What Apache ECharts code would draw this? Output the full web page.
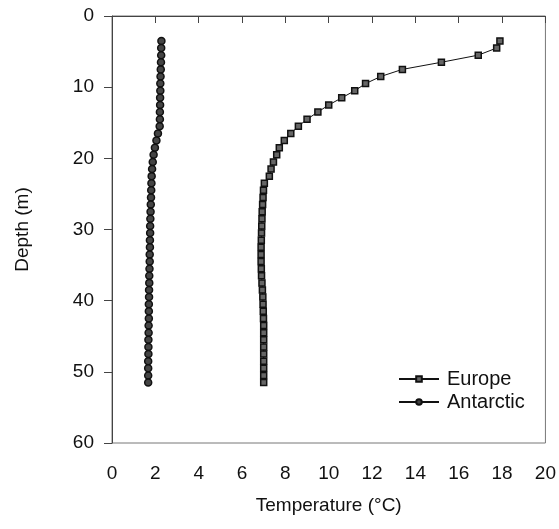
<!DOCTYPE html>
<html>
<head>
<meta charset="utf-8">
<script src="https://cdn.jsdelivr.net/npm/echarts@6/dist/echarts.min.js"></script>
<style>
  html, body { margin: 0; padding: 0; background: #fff; }
  #main { width: 559px; height: 529px; }
</style>
</head>
<body>
<div id="main"></div>
<script>
// depth of each sample (m)
var depths = [3.5, 4.5, 5.5, 6.5, 7.5, 8.5, 9.5, 10.5, 11.5, 12.5, 13.5, 14.5, 15.5, 16.5, 17.5,
  18.5, 19.5, 20.5, 21.5, 22.5, 23.5, 24.5, 25.5, 26.5, 27.5, 28.5, 29.5, 30.5, 31.5, 32.5,
  33.5, 34.5, 35.5, 36.5, 37.5, 38.5, 39.5, 40.5, 41.5, 42.5, 43.5, 44.5, 45.5, 46.5, 47.5,
  48.5, 49.5, 50.5, 51.5];

// temperature (°C)
var europe = [17.9, 17.75, 16.9, 15.2, 13.4, 12.4, 11.7, 11.2, 10.6, 10.0, 9.5, 9.0, 8.6, 8.25, 7.95,
  7.72, 7.6, 7.45, 7.34, 7.26, 7.03, 6.99, 6.97, 6.95, 6.93, 6.92, 6.91, 6.9, 6.89, 6.88,
  6.88, 6.88, 6.89, 6.9, 6.92, 6.94, 6.96, 6.97, 6.98, 6.99, 7.0, 7.0, 7.0, 7.0, 7.0,
  7.0, 7.0, 7.0, 7.0];

var antarctic = [2.28, 2.27, 2.27, 2.26, 2.25, 2.24, 2.23, 2.23, 2.22, 2.22, 2.21, 2.21, 2.2, 2.12, 2.05,
  1.98, 1.92, 1.88, 1.85, 1.83, 1.82, 1.81, 1.8, 1.79, 1.78, 1.77, 1.76, 1.76, 1.75, 1.75,
  1.74, 1.74, 1.73, 1.72, 1.72, 1.71, 1.71, 1.7, 1.7, 1.7, 1.69, 1.69, 1.68, 1.68, 1.68,
  1.67, 1.67, 1.67, 1.67];

function pairs(temps) {
  return temps.map(function (t, i) { return [t, depths[i]]; });
}

var font = 'Liberation Sans, Arial, sans-serif';
var ink = '#111';

var myChart = echarts.init(document.getElementById('main'));
myChart.setOption({
  animation: false,
  backgroundColor: '#fff',
  textStyle: { fontFamily: font },
  grid: {
    left: 112, right: 12, top: 16, bottom: 86,
    show: true, borderColor: '#777', borderWidth: 1
  },
  legend: {
    left: 393, top: 364,
    orient: 'vertical',
    itemWidth: 40, itemHeight: 7, itemGap: 3,
    textStyle: { fontSize: 20, color: ink, fontFamily: font, padding: [0, 0, 0, 3] },
    data: ['Europe', 'Antarctic']
  },
  xAxis: {
    type: 'value', min: 0, max: 20, interval: 2,
    name: 'Temperature (°C)', nameLocation: 'middle', nameGap: 53,
    nameTextStyle: { fontSize: 19, color: ink },
    axisLine: { show: true, lineStyle: { color: '#444' } },
    axisTick: { show: true, length: 7, lineStyle: { color: '#444' } },
    axisLabel: { fontSize: 19, color: ink, margin: 21 },
    splitLine: { show: false }
  },
  yAxis: {
    type: 'value', min: 0, max: 60, interval: 10, inverse: true,
    name: 'Depth (m)', nameLocation: 'middle', nameGap: 80,
    nameTextStyle: { fontSize: 19, color: ink },
    axisLine: { show: true, lineStyle: { color: '#444' } },
    axisTick: { show: true, length: 8, lineStyle: { color: '#444' } },
    axisLabel: { fontSize: 19, color: ink, margin: 18 },
    splitLine: { show: false }
  },
  series: [
    {
      name: 'Europe', type: 'line',
      data: pairs(europe),
      symbol: 'rect', symbolSize: 6,
      itemStyle: { color: '#666', borderColor: ink, borderWidth: 1.5 },
      lineStyle: { color: ink, width: 1 }
    },
    {
      name: 'Antarctic', type: 'line',
      data: pairs(antarctic),
      symbol: 'circle', symbolSize: 7,
      itemStyle: { color: '#444', borderColor: ink, borderWidth: 1.5 },
      lineStyle: { color: ink, width: 1 }
    }
  ]
});
window.addEventListener('resize', function () { myChart.resize(); });
</script>
</body>
</html>
